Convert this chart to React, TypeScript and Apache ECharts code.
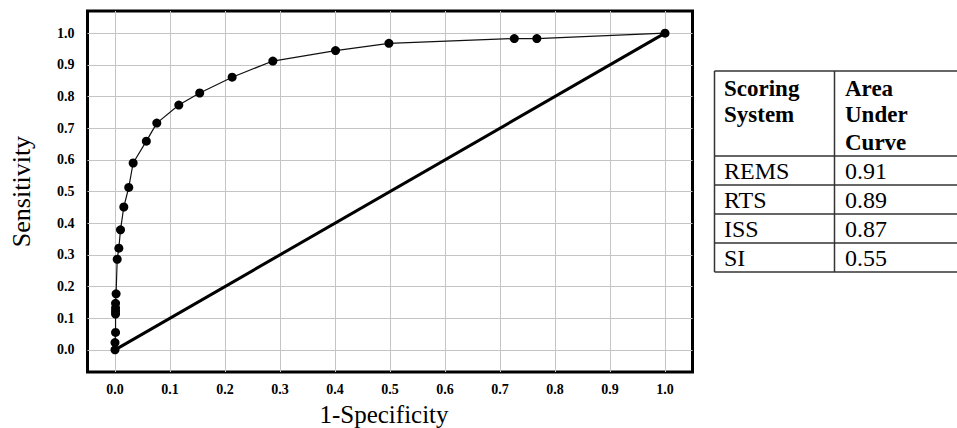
import React, { useEffect, useRef } from "react";
import * as echarts from "echarts";

// ROC curve points (1-Specificity, Sensitivity)
const fpr = [0, 0, 0.001, 0.001, 0.001, 0.001, 0.001, 0.002, 0.004, 0.007, 0.010, 0.016, 0.025, 0.033, 0.057, 0.076, 0.116, 0.154, 0.213, 0.287, 0.401, 0.498, 0.726, 0.767, 1.0];
const tpr = [0, 0.023, 0.055, 0.113, 0.122, 0.132, 0.147, 0.177, 0.286, 0.321, 0.379, 0.451, 0.513, 0.590, 0.659, 0.716, 0.773, 0.811, 0.861, 0.912, 0.945, 0.968, 0.983, 0.983, 1.0];
// reference diagonal
const diagX = [0, 1];
const diagY = [0, 1];

// table
const tableHeaderLeft = ["Scoring", "System"];
const tableHeaderRight = ["Area", "Under", "Curve"];
const tableSystems = ["REMS", "RTS", "ISS", "SI"];
const tableAUC = ["0.91", "0.89", "0.87", "0.55"];

const SERIF = "Liberation Serif";

export default function App() {
  const ref = useRef<HTMLDivElement>(null);
  useEffect(() => {
    if (!ref.current) return;
    const chart = echarts.init(ref.current, null, { renderer: "svg" });

    const T = "rgba(0,0,0,0)";
    const G = "#c4c4c4";
    const yColors = [T, T, T, T, T, T, T, G, T, T];

    const graphic: any[] = [];
    const tl = 714.5, tm = 834.5, tr = 962;
    const hLines = [71, 156, 185, 214, 243, 272];
    hLines.forEach((y) =>
      graphic.push({ type: "line", shape: { x1: tl, y1: y, x2: tr, y2: y }, style: { stroke: "#333", lineWidth: 1.5 } })
    );
    [tl, tm].forEach((x) =>
      graphic.push({ type: "line", shape: { x1: x, y1: 71, x2: x, y2: 272 }, style: { stroke: "#333", lineWidth: 1.5 } })
    );
    const headerY = [88, 114, 142];
    const txt = (t: string, x: number, y: number, bold: boolean, fs: number) => ({
      type: "text",
      x,
      y,
      style: {
        text: t,
        fontFamily: SERIF,
        fontSize: fs,
        fontWeight: bold ? "bold" : "normal",
        fill: "#000",
        verticalAlign: "middle",
      },
    });
    tableHeaderLeft.forEach((t, i) => graphic.push(txt(t, 724, headerY[i], true, 23)));
    tableHeaderRight.forEach((t, i) => graphic.push(txt(t, 845, headerY[i], true, 23)));
    tableSystems.forEach((t, i) => {
      const y = 171 + i * 29;
      graphic.push(txt(t, 724, y, false, 24));
      graphic.push(txt(tableAUC[i], 845, y, false, 24));
    });

    chart.setOption({
      animation: false,
      backgroundColor: "#fff",
      textStyle: { fontFamily: SERIF },
      grid: {
        left: 87.5,
        top: 11,
        width: 605,
        height: 361,
        show: true,
        borderColor: "#000",
        borderWidth: 3,
        backgroundColor: "#fff",
        containLabel: false,
        outerBoundsMode: "none",
      },
      xAxis: {
        type: "value",
        min: -0.05,
        max: 1.05,
        interval: 0.05,
        name: "1-Specificity",
        nameLocation: "middle",
        nameGap: 30,
        nameTextStyle: { fontFamily: SERIF, fontSize: 25, color: "#000", padding: [0, 12, 0, 0] },
        axisLine: { show: false },
        axisTick: { show: false },
        axisLabel: {
          margin: 10,
          fontFamily: SERIF,
          fontWeight: "bold",
          fontSize: 14,
          color: "#000",
          formatter: (v: number) => (Math.abs(Math.round(v * 20)) % 2 === 0 ? v.toFixed(1) : ""),
        },
        splitLine: { show: true, lineStyle: { color: [T, G], width: 1 } },
      },
      yAxis: {
        type: "value",
        min: -0.07,
        max: 1.07,
        interval: 0.01,
        name: "Sensitivity",
        nameLocation: "middle",
        nameGap: 53,
        nameTextStyle: { fontFamily: SERIF, fontSize: 26, color: "#000" },
        axisLine: { show: false },
        axisTick: { show: false },
        axisLabel: {
          margin: 13,
          fontFamily: SERIF,
          fontWeight: "bold",
          fontSize: 14,
          color: "#000",
          formatter: (v: number) => (Math.abs(Math.round(v * 100)) % 10 === 0 ? v.toFixed(1) : ""),
        },
        splitLine: { show: true, lineStyle: { color: yColors, width: 1 } },
      },
      series: [
        {
          type: "line",
          data: diagX.map((x, i) => [x, diagY[i]]),
          showSymbol: false,
          symbol: "none",
          lineStyle: { color: "#000", width: 3 },
          z: 3,
        },
        {
          type: "line",
          data: fpr.map((x, i) => [x, tpr[i]]),
          symbol: "circle",
          symbolSize: 9,
          itemStyle: { color: "#000" },
          lineStyle: { color: "#111", width: 1.2 },
          z: 4,
        },
      ],
      graphic,
    });
    return () => chart.dispose();
  }, []);
  return (
    <div
      ref={ref}
      style={{ position: "fixed", left: 0, top: 0, width: 957, height: 428, background: "#fff" }}
    />
  );
}
